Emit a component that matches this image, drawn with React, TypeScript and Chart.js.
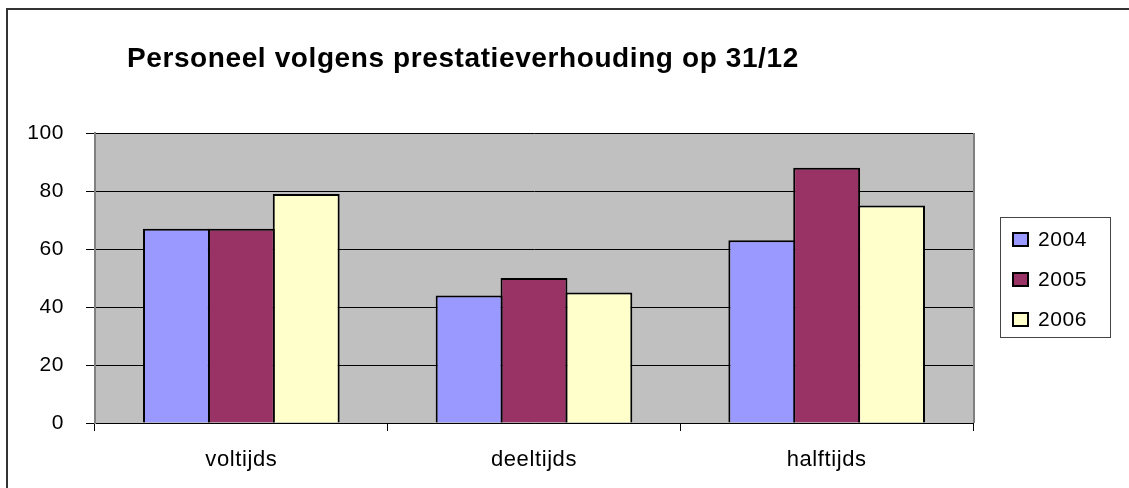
import React, { useEffect, useRef } from "react";
import { Chart, registerables } from "chart.js";

Chart.register(...registerables);

const chartTitle = "Personeel volgens prestatieverhouding op 31/12";
const categories = ["voltijds", "deeltijds", "halftijds"];
const seriesLabels = ["2004", "2005", "2006"];
const values2004 = [67, 44, 63];
const values2005 = [67, 50, 88];
const values2006 = [79, 45, 75];
const seriesColors = ["#9999FF", "#993366", "#FFFFCC"];
const yTickValues = [0, 20, 40, 60, 80, 100];

const FONT = "'Liberation Sans', Arial, Helvetica, sans-serif";
const SPACING = "0.6px";

const spacingPlugin = {
  id: "spacingAndBg",
  beforeUpdate(chart: any) {
    chart.ctx.letterSpacing = SPACING;
  },
  resize(chart: any) {
    chart.ctx.letterSpacing = SPACING;
  },
  beforeDraw(chart: any) {
    const ctx = chart.ctx;
    ctx.letterSpacing = SPACING;
    const a = chart.chartArea;
    ctx.save();
    ctx.fillStyle = "#C0C0C0";
    ctx.fillRect(a.left, a.top, a.right - a.left, a.bottom - a.top);
    ctx.restore();
  },
  beforeDatasetsDraw(chart: any) {
    const ctx = chart.ctx;
    const a = chart.chartArea;
    ctx.save();
    ctx.strokeStyle = "#808080";
    ctx.lineWidth = 2;
    ctx.beginPath();
    ctx.moveTo(a.right + 1, a.top);
    ctx.lineTo(a.right + 1, a.bottom);
    ctx.stroke();
    ctx.restore();
  },
  afterDraw(chart: any) {
    const ctx = chart.ctx;
    ctx.save();
    ctx.letterSpacing = SPACING;
    ctx.strokeStyle = "#444";
    ctx.lineWidth = 1;
    ctx.strokeRect(1000.5, 217.5, 110, 120);
    chart.data.datasets.forEach((ds: any, i: number) => {
      const cy = 239 + i * 40;
      ctx.fillStyle = ds.backgroundColor;
      ctx.fillRect(1013, cy - 6, 15, 13);
      ctx.lineWidth = 2;
      ctx.strokeStyle = "#000";
      ctx.strokeRect(1013, cy - 6, 15, 13);
      ctx.fillStyle = "#000";
      ctx.font = `21px ${FONT}`;
      ctx.textBaseline = "alphabetic";
      ctx.textAlign = "left";
      ctx.fillText(ds.label, 1038, cy + 7);
    });
    ctx.restore();
  },
};

export default function App() {
  const ref = useRef<HTMLCanvasElement>(null);

  useEffect(() => {
    document.body.style.margin = "0";
    if (!ref.current) return;
    const seriesValues = [values2004, values2005, values2006];
    const chart = new Chart(ref.current, {
      type: "bar",
      data: {
        labels: categories,
        datasets: seriesLabels.map((label, i) => ({
          label,
          data: seriesValues[i],
          backgroundColor: seriesColors[i],
          borderColor: "#000",
          borderWidth: 2,
          borderSkipped: "start",
          categoryPercentage: 0.665,
          barPercentage: 1.031,
        })),
      },
      options: {
        animation: false,
        responsive: false,
        maintainAspectRatio: false,
        layout: { padding: { left: 0, top: 133, right: 156, bottom: 0 } },
        plugins: {
          legend: { display: false },
          title: { display: false },
          tooltip: { enabled: false },
        },
        scales: {
          x: {
            afterFit(scale: any) {
              scale.height = 65;
            },
            grid: {
              display: true,
              drawOnChartArea: false,
              drawTicks: true,
              tickLength: 8,
              color: "#000",
              tickColor: "#000",
              offset: true,
            },
            border: { display: true, color: "#000", width: 1 },
            ticks: {
              color: "#000",
              font: { family: FONT, size: 22 },
              padding: 16,
              maxRotation: 0,
            },
          },
          y: {
            min: 0,
            max: 100,
            afterFit(scale: any) {
              scale.width = 95;
            },
            afterBuildTicks(scale: any) {
              scale.ticks = yTickValues.map((v) => ({ value: v }));
            },
            grid: {
              color: "#000",
              tickColor: "#000",
              lineWidth: 1,
              tickLength: 9,
            },
            border: { display: true, color: "#808080", width: 2 },
            ticks: {
              color: "#000",
              font: { family: FONT, size: 21 },
              padding: 22,
            },
          },
        },
      },
      plugins: [spacingPlugin],
    } as any);
    return () => chart.destroy();
  }, []);

  return (
    <div
      style={{
        position: "relative",
        width: 1129,
        height: 488,
        overflow: "hidden",
        background: "#fff",
      }}
    >
      <canvas
        ref={ref}
        width={1129}
        height={488}
        style={{ position: "absolute", left: 0, top: 0, width: 1129, height: 488 }}
      />
      <div
        style={{
          position: "absolute",
          left: 6,
          top: 8,
          width: 1300,
          height: 600,
          borderLeft: "2px solid #333",
          borderTop: "2px solid #333",
          pointerEvents: "none",
        }}
      />
      <div
        style={{
          position: "absolute",
          left: 127,
          top: 44,
          fontFamily: FONT,
          fontWeight: "bold",
          fontSize: 28,
          lineHeight: "28px",
          letterSpacing: "0.6px",
          whiteSpace: "nowrap",
          color: "#000",
        }}
      >
        {chartTitle}
      </div>
    </div>
  );
}
